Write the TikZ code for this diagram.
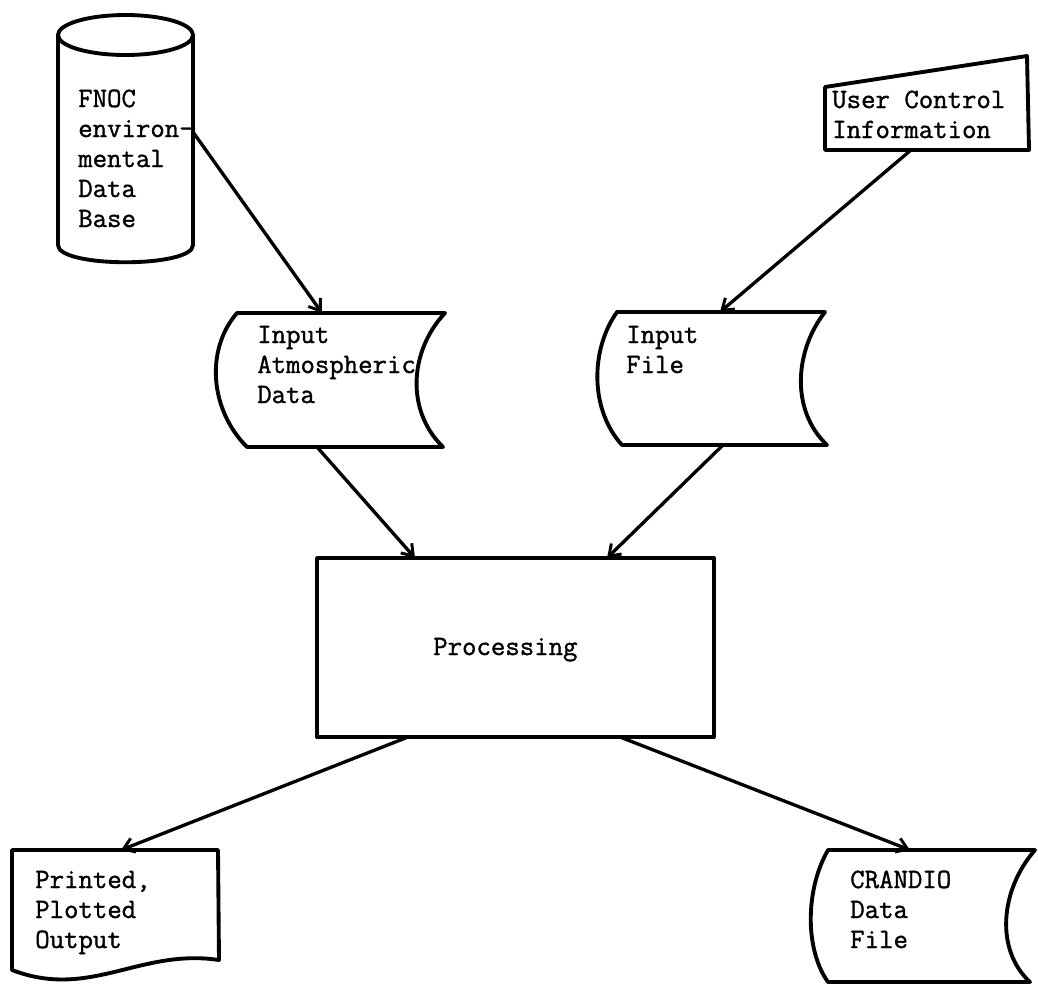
\documentclass[tikz,border=0pt]{standalone}
\usepackage{fontspec}
\newfontfamily\typew[FakeBold=1.2]{Latin Modern Mono}
\usetikzlibrary{arrows.meta}
\begin{document}
\begin{tikzpicture}[x=0.75pt,y=-0.75pt,
  shapeline/.style={line width=2.9pt, line join=round, line cap=round},
  flow/.style={line width=2.5pt, -{Straight Barb[length=8pt,width=11pt,line width=2.2pt]}},
  txt/.style={font=\typew\fontsize{21}{22.5}\selectfont, align=left, anchor=base west, inner sep=0pt}]
\useasboundingbox (0,0) rectangle (1038,990);

% FNOC data base (cylinder)
\draw[shapeline] (125.5,35) ellipse [x radius=67.5, y radius=20];
\draw[shapeline] (58,35) -- (58,245) .. controls (58,268) and (193,268) .. (193,245) -- (193,35);
\node[txt] (fnoc) at (78,227) {FNOC\\environ-\\mental\\Data\\Base};

% User control information (manual input)
\draw[shapeline] (825,87) -- (1027,56) -- (1029,150) -- (825,150) -- cycle;
\node[txt] (user) at (832,138) {User Control\\Information};

% Input atmospheric data (stored data)
\draw[shapeline] (237,313) -- (445,313) .. controls (410,350) and (405,410) .. (443,447)
  -- (247,447) .. controls (210,410) and (205,350) .. (237,313) -- cycle;
\node[txt] (atm) at (257,403) {Input\\Atmospheric\\Data};

% Input file (stored data)
\draw[shapeline] (617,312) -- (825,312) .. controls (795,350) and (790,410) .. (827,445)
  -- (622,445) .. controls (590,410) and (590,350) .. (617,312) -- cycle;
\node[txt] (infile) at (626,373) {Input\\File};

% Processing
\draw[shapeline] (317,558) rectangle (714,737);
\node[txt] (proc) at (433,655) {Processing};

% Printed, plotted output (document)
\draw[shapeline] (12,850) -- (218,850) -- (219,960) .. controls (140,948) and (90,1000) .. (12,970) -- cycle;
\node[txt] (printed) at (35,948) {Printed,\\Plotted\\Output};

% CRANDIO data file (stored data)
\draw[shapeline] (828,850) -- (1035,850) .. controls (1000,890) and (995,950) .. (1030,982)
  -- (828,982) .. controls (805,950) and (805,890) .. (828,850) -- cycle;
\node[txt] (crandio) at (850,948) {CRANDIO\\Data\\File};

% connector end points
\coordinate (cylR) at (193,132);
\coordinate (atmT) at (322,313);
\coordinate (userB) at (911,150);
\coordinate (fileT) at (720,312);
\coordinate (atmB) at (317,447);
\coordinate (procTL) at (415,558);
\coordinate (fileB) at (723,445);
\coordinate (procTR) at (607,558);
\coordinate (procBL) at (408,737);
\coordinate (printT) at (121,850);
\coordinate (procBR) at (620,737);
\coordinate (cranT) at (910,850);

\draw[flow] (cylR) -- (atmT);
\draw[flow] (userB) -- (fileT);
\draw[flow] (atmB) -- (procTL);
\draw[flow] (fileB) -- (procTR);
\draw[flow] (procBL) -- (printT);
\draw[flow] (procBR) -- (cranT);
\end{tikzpicture}
\end{document}
